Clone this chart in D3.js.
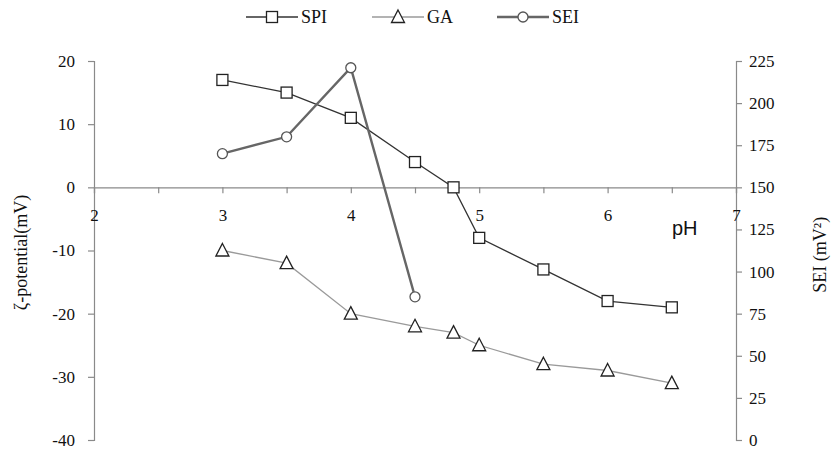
<!DOCTYPE html>
<html>
<head>
<meta charset="utf-8">
<script src="https://cdn.jsdelivr.net/npm/d3@7"></script>
<style>
html,body{margin:0;padding:0;background:#fff;}
svg{display:block;}
</style>
</head>
<body>
<svg id="chart" width="836" height="450"></svg>
<script>
// ---- data ----
const phSPI = [3, 3.5, 4, 4.5, 4.8, 5, 5.5, 6, 6.5];
const spiValues = [17, 15, 11, 4, 0, -8, -13, -18, -19];
const phGA = [3, 3.5, 4, 4.5, 4.8, 5, 5.5, 6, 6.5];
const gaValues = [-10, -12, -20, -22, -23, -25, -28, -29, -31];
const phSEI = [3, 3.5, 4, 4.5];
const seiValues = [170, 180, 221, 85];
const xTicks = [2, 3, 4, 5, 6, 7];
const xMinorTicks = [2, 2.5, 3, 3.5, 4, 4.5, 5, 5.5, 6, 6.5, 7];
const leftTicks = [20, 10, 0, -10, -20, -30, -40];
const rightTicks = [225, 200, 175, 150, 125, 100, 75, 50, 25, 0];
const seriesNames = ["SPI", "GA", "SEI"];

const svg = d3.select("#chart");
const serif = "'Liberation Serif','Times New Roman',serif";
const sans = "'Liberation Sans',Arial,sans-serif";
const axisColor = "#8a8a8a";
const textColor = "#111";

const x = d3.scaleLinear().domain([2, 7]).range([94, 736]);
const yL = d3.scaleLinear().domain([-40, 20]).range([440, 61]);
const yR = d3.scaleLinear().domain([0, 225]).range([440, 61]);

const fmt = d => String(d);
// left axis
const leftAxis = d3.axisLeft(yL).tickValues(leftTicks).tickSize(6).tickPadding(13).tickFormat(fmt);
const gl = svg.append("g").attr("transform", `translate(${x(2)},0)`).call(leftAxis);
// right axis
const rightAxis = d3.axisRight(yR).tickValues(rightTicks).tickSize(6).tickPadding(7).tickFormat(fmt);
const gr = svg.append("g").attr("transform", `translate(${x(7)},0)`).call(rightAxis);
// x axis at zero
const xAxis = d3.axisBottom(x).tickValues(xMinorTicks).tickSize(6).tickFormat(d => xTicks.includes(d) ? String(d) : "");
const gx = svg.append("g").attr("transform", `translate(0,${yL(0)})`).call(xAxis);

[gl, gr, gx].forEach(g => {
  g.attr("font-family", serif).attr("font-size", 17);
  g.selectAll(".domain").attr("stroke", axisColor).attr("stroke-width", 1.2);
  g.selectAll(".tick line").attr("stroke", axisColor).attr("stroke-width", 1.2);
  g.selectAll("text").attr("fill", textColor).style("font-family", serif).style("font-size", "17px");
});
gx.selectAll("text").attr("dy", "1.45em");

// axis titles
svg.append("text")
  .attr("transform", `translate(27,${(yL(20)+yL(-40))/2 + 2}) rotate(-90)`)
  .attr("text-anchor", "middle")
  .style("font-family", serif).style("font-size", "18px").attr("fill", textColor)
  .text("ζ-potential(mV)");
svg.append("text")
  .attr("transform", `translate(826,${yR(110)}) rotate(-90)`)
  .attr("text-anchor", "middle")
  .style("font-family", serif).style("font-size", "18px").attr("fill", textColor)
  .text("SEI (mV²)");
svg.append("text")
  .attr("x", 672).attr("y", 235)
  .style("font-family", sans).style("font-size", "20px").attr("fill", textColor)
  .text("pH");

// marker drawers
function square(g, cx, cy, color) {
  g.append("rect").attr("x", cx - 5.5).attr("y", cy - 5.5).attr("width", 11).attr("height", 11)
    .attr("fill", "#fff").attr("stroke", color).attr("stroke-width", 1.3);
}
function triangle(g, cx, cy, color) {
  g.append("path").attr("d", `M${cx},${cy - 7}L${cx + 6.5},${cy + 5.5}L${cx - 6.5},${cy + 5.5}Z`)
    .attr("fill", "#fff").attr("stroke", color).attr("stroke-width", 1.3);
}
function circle(g, cx, cy, color) {
  g.append("circle").attr("cx", cx).attr("cy", cy).attr("r", 5)
    .attr("fill", "#fff").attr("stroke", color).attr("stroke-width", 1.3);
}

const series = [
  {name: "SPI", xs: phSPI, ys: spiValues, scale: yL, line: "#333", lw: 1.3, marker: square, mc: "#222"},
  {name: "GA", xs: phGA, ys: gaValues, scale: yL, line: "#9a9a9a", lw: 1.3, marker: triangle, mc: "#222"},
  {name: "SEI", xs: phSEI, ys: seiValues, scale: yR, line: "#666", lw: 2.4, marker: circle, mc: "#555"}
];

series.forEach(s => {
  const pts = s.xs.map((v, i) => [x(v), s.scale(s.ys[i])]);
  const g = svg.append("g");
  g.append("path").attr("d", d3.line()(pts)).attr("fill", "none")
    .attr("stroke", s.line).attr("stroke-width", s.lw);
  pts.forEach(p => s.marker(g, p[0], p[1], s.mc));
});

// legend
const legendX = [246, 372, 497];
const legendY = 17;
series.forEach((s, i) => {
  const g = svg.append("g");
  const x0 = legendX[i];
  g.append("line").attr("x1", x0).attr("x2", x0 + 52).attr("y1", legendY).attr("y2", legendY)
    .attr("stroke", s.line).attr("stroke-width", s.lw);
  s.marker(g, x0 + 26, legendY, s.mc);
  g.append("text").attr("x", x0 + 55).attr("y", legendY + 6)
    .style("font-family", serif).style("font-size", "18px").attr("fill", textColor)
    .text(seriesNames[i]);
});
</script>
</body>
</html>
